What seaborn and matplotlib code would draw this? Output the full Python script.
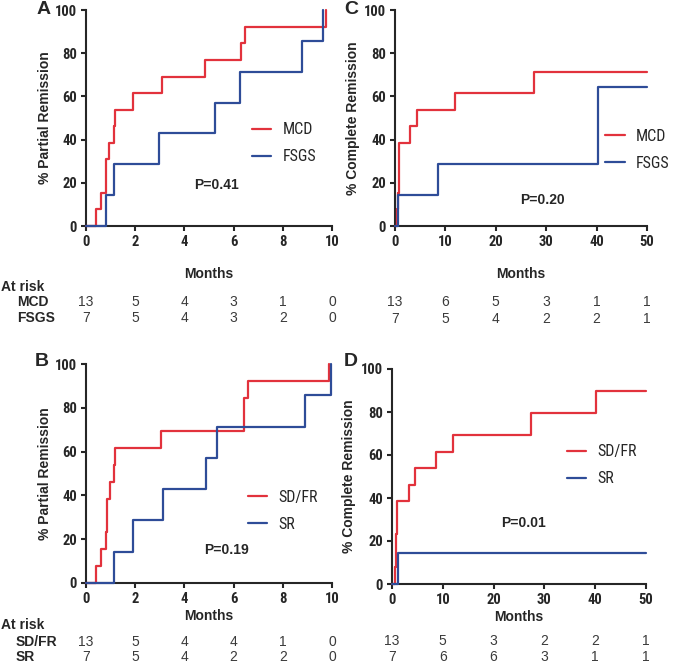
import matplotlib
matplotlib.use("Agg")
import matplotlib.pyplot as plt
import matplotlib.transforms as mtransforms
from matplotlib import font_manager
import seaborn as sns
import pandas as pd

# ---- data ----
a_mcd_t = [0, 0.39, 0.61, 0.80, 0.82, 0.95, 1.12, 1.18, 1.90, 3.10, 4.83, 6.31, 6.46, 9.76]
a_mcd_pct = [0, 7.7, 15.4, 23.1, 30.8, 38.5, 46.2, 53.8, 61.5, 69.2, 76.9, 84.6, 92.3, 100]
a_fsgs_t = [0, 0.82, 1.14, 2.97, 5.24, 6.27, 8.78, 9.63]
a_fsgs_pct = [0, 14.3, 28.6, 42.9, 57.1, 71.4, 85.7, 100]

c_mcd_t = [0, 0.3, 0.5, 0.7, 0.8, 3.0, 4.3, 12.0, 27.5, 50]
c_mcd_pct = [0, 7.7, 15.4, 30.8, 38.5, 46.2, 53.8, 61.5, 71.1, 71.1]
c_fsgs_t = [0, 0.66, 8.5, 40.3, 50]
c_fsgs_pct = [0, 14.3, 28.6, 64.3, 64.3]

b_sdfr_t = [0, 0.39, 0.61, 0.80, 0.84, 0.98, 1.14, 1.17, 3.03, 6.42, 6.57, 9.86]
b_sdfr_pct = [0, 7.7, 15.4, 23.1, 38.5, 46.2, 53.8, 61.5, 69.2, 84.6, 92.3, 100]
b_sr_t = [0, 1.14, 1.92, 3.14, 4.88, 5.33, 8.90, 9.96]
b_sr_pct = [0, 14.3, 28.6, 42.9, 57.1, 71.4, 85.7, 100]

d_sdfr_t = [0, 0.5, 0.8, 1.0, 3.3, 4.6, 8.7, 12.1, 27.3, 40.2, 50]
d_sdfr_pct = [0, 7.7, 23.1, 38.5, 46.2, 53.8, 61.5, 69.2, 79.5, 89.9, 89.9]
d_sr_t = [0, 1.2, 50]
d_sr_pct = [0, 14.3, 14.3]

a_ticks = [0, 2, 4, 6, 8, 10]
c_ticks = [0, 10, 20, 30, 40, 50]
a_risk_mcd = [13, 5, 4, 3, 1, 0]
a_risk_fsgs = [7, 5, 4, 3, 2, 0]
c_risk_mcd = [13, 6, 5, 3, 1, 1]
c_risk_fsgs = [7, 5, 4, 2, 2, 1]
b_risk_sdfr = [13, 5, 4, 4, 1, 0]
b_risk_sr = [7, 5, 4, 2, 2, 0]
d_risk_sdfr = [13, 5, 3, 2, 2, 1]
d_risk_sr = [7, 6, 6, 3, 1, 1]

RED = "#E2323C"
BLUE = "#2E4C98"
WIDE = ["Liberation Sans", "DejaVu Sans"]

# a condensed face if one is installed, otherwise plain Liberation Sans a bit smaller
installed = {f.name for f in font_manager.fontManager.ttflist}
narrow_name = None
for cand in ["Liberation Sans Narrow", "Arial Narrow", "Roboto Condensed",
             "Open Sans Condensed", "DejaVu Sans Condensed"]:
  if cand in installed:
    narrow_name = cand
    break
if narrow_name:
  NARROW = [narrow_name] + WIDE
  leg_size, tick_size = 11.5, 10.5
else:
  NARROW = WIDE
  leg_size, tick_size = 10.5, 10

sns.set_style("ticks")
plt.rcParams["font.family"] = WIDE

W, H = 674, 663
fig = plt.figure(figsize=(W / 100, H / 100), dpi=100)


def px_axes(l, t, r, b):
  return fig.add_axes([l / W, 1 - b / H, (r - l) / W, (b - t) / H])


def ftext(x, y, s, **kw):
  fig.text(x / W, 1 - y / H, s, **kw)


def panel(ax, curves, xmax, ticks, ylabel, labelpad, leg_xy, p_xy, ptext):
  for name, t, pct, col in curves:
    df = pd.DataFrame({"months": t, "pct": pct})
    sns.lineplot(data=df, x="months", y="pct", ax=ax, color=col, label=name,
                 drawstyle="steps-post", estimator=None, linewidth=1.6,
                 clip_on=False, zorder=5)
  ax.set_xlim(0, xmax)
  ax.set_ylim(0, 100)
  ax.set_xticks(ticks)
  ax.set_yticks([0, 20, 40, 60, 80, 100])
  sns.despine(ax=ax)
  for sp in ["left", "bottom"]:
    ax.spines[sp].set_linewidth(1.5)
  ax.tick_params(width=1.5, length=3.5, pad=3, labelsize=tick_size)
  for lab in ax.get_xticklabels() + ax.get_yticklabels():
    lab.set_fontfamily(NARROW)
    lab.set_fontweight("bold")
  ax.set_xlabel("Months", fontsize=10, fontweight="bold", labelpad=labelpad)
  ax.set_ylabel(ylabel, fontsize=10, fontweight="bold")
  ax.yaxis.set_label_coords(-0.14, 0.5)
  ax.legend(loc="center left", bbox_to_anchor=leg_xy, frameon=False,
            prop={"family": NARROW, "size": leg_size}, handlelength=1.2,
            handletextpad=0.7, labelspacing=0.75, borderpad=0,
            borderaxespad=0)
  ax.text(p_xy[0], p_xy[1], ptext, transform=ax.transAxes, ha="center",
          va="center", fontsize=10, fontweight="bold")


def risk_row(ax, ticks, values, ypix):
  tr = mtransforms.blended_transform_factory(ax.transData, fig.transFigure)
  for x, v in zip(ticks, values):
    ax.text(x, 1 - ypix / H, str(v), transform=tr, ha="center", va="center",
            fontsize=10, color="#3a3a3a", clip_on=False)


ax_a = px_axes(86, 10, 332, 226)
ax_c = px_axes(395, 10, 647, 226)
ax_b = px_axes(86, 364, 332, 583)
ax_d = px_axes(392, 369, 646, 584)

panel(ax_a, [("MCD", a_mcd_t, a_mcd_pct, RED), ("FSGS", a_fsgs_t, a_fsgs_pct, BLUE)],
      10, a_ticks, "% Partial Remission", 13, (0.675, 0.382), (0.53, 0.19), "P=0.41")
panel(ax_c, [("MCD", c_mcd_t, c_mcd_pct, RED), ("FSGS", c_fsgs_t, c_fsgs_pct, BLUE)],
      50, c_ticks, "% Complete Remission", 13, (0.835, 0.352), (0.587, 0.12), "P=0.20")
panel(ax_b, [("SD/FR", b_sdfr_t, b_sdfr_pct, RED), ("SR", b_sr_t, b_sr_pct, BLUE)],
      10, a_ticks, "% Partial Remission", 2, (0.659, 0.329), (0.573, 0.15), "P=0.19")
panel(ax_d, [("SD/FR", d_sdfr_t, d_sdfr_pct, RED), ("SR", d_sr_t, d_sr_pct, BLUE)],
      50, c_ticks, "% Complete Remission", 2, (0.689, 0.553), (0.516, 0.284), "P=0.01")

# panel letters
for letter, x, y in [("A", 37, 10), ("C", 344, 10), ("B", 35, 362), ("D", 344, 362)]:
  ftext(x, y, letter, fontsize=14, fontweight="bold", ha="left", va="center")

# at-risk tables
ftext(1, 287, "At risk", fontsize=10, fontweight="bold", ha="left", va="center")
ftext(17, 302, "MCD", fontsize=10, fontweight="bold", ha="left", va="center")
ftext(17, 318, "FSGS", fontsize=10, fontweight="bold", ha="left", va="center")
risk_row(ax_a, a_ticks, a_risk_mcd, 302)
risk_row(ax_a, a_ticks, a_risk_fsgs, 318)
risk_row(ax_c, c_ticks, c_risk_mcd, 302)
risk_row(ax_c, c_ticks, c_risk_fsgs, 319)

ftext(1, 625, "At risk", fontsize=10, fontweight="bold", ha="left", va="center")
ftext(16, 642, "SD/FR", fontsize=10, fontweight="bold", ha="left", va="center")
ftext(16, 657, "SR", fontsize=10, fontweight="bold", ha="left", va="center")
risk_row(ax_b, a_ticks, b_risk_sdfr, 642)
risk_row(ax_b, a_ticks, b_risk_sr, 657)
risk_row(ax_d, c_ticks, d_risk_sdfr, 641)
risk_row(ax_d, c_ticks, d_risk_sr, 657)

fig.savefig("out.png", dpi=100)
plt.close(fig)
